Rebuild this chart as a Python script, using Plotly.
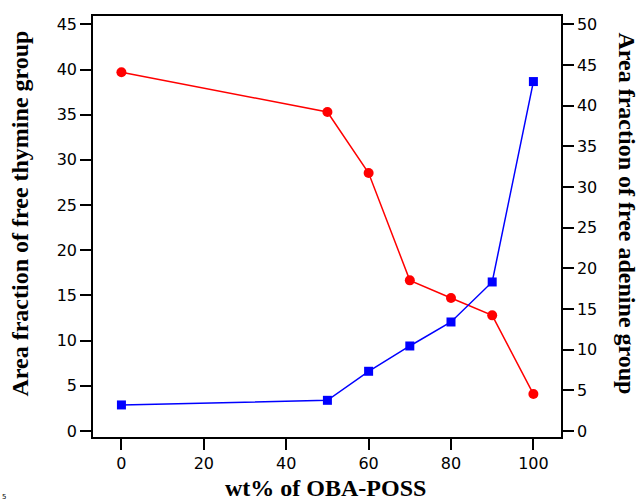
import plotly.graph_objects as go

wt_percent = [0, 50, 60, 70, 80, 90, 100]
thymine_free = [39.7, 35.3, 28.55, 16.67, 14.72, 12.8, 4.09]
adenine_free = [3.2, 3.77, 7.34, 10.45, 13.4, 18.32, 42.96]

x_ticks = [0, 20, 40, 60, 80, 100]
left_ticks = [0, 5, 10, 15, 20, 25, 30, 35, 40, 45]
right_ticks = [0, 5, 10, 15, 20, 25, 30, 35, 40, 45, 50]

x_title = "wt% of OBA-POSS"
left_title = "Area fraction of free thymine group"
right_title = "Area fraction of free adenine group"

fig = go.Figure()
fig.add_trace(go.Scatter(
    x=wt_percent, y=thymine_free, mode="lines+markers",
    line=dict(color="#ff0000", width=1.5),
    marker=dict(symbol="circle", size=10, color="#ff0000"),
    yaxis="y", showlegend=False,
))
fig.add_trace(go.Scatter(
    x=wt_percent, y=adenine_free, mode="lines+markers",
    line=dict(color="#0000ff", width=1.5),
    marker=dict(symbol="square", size=9, color="#0000ff"),
    yaxis="y2", showlegend=False,
))

tickfont = dict(family="DejaVu Sans", size=16, color="black")
titlefont = dict(family="Liberation Serif", size=24, color="black")

fig.update_layout(
    width=639, height=502,
    margin=dict(l=93, r=78, t=16, b=65),
    paper_bgcolor="white", plot_bgcolor="white",
    xaxis=dict(
        range=[-6.9, 106.7], tickvals=x_ticks, ticktext=[str(v) for v in x_ticks],
        ticks="outside", ticklen=11, tickwidth=1.5, tickcolor="black",
        showline=True, linecolor="black", linewidth=1.5, mirror=True,
        showgrid=False, zeroline=False, tickfont=tickfont,
    ),
    yaxis=dict(
        range=[-0.66, 45.92], tickvals=left_ticks, ticktext=[str(v) for v in left_ticks],
        ticks="outside", ticklen=11, tickwidth=1.5, tickcolor="black",
        showline=True, linecolor="black", linewidth=1.5,
        showgrid=False, zeroline=False, tickfont=tickfont,
    ),
    yaxis2=dict(
        range=[-0.74, 51.02], tickvals=right_ticks, ticktext=[str(v) for v in right_ticks],
        overlaying="y", side="right",
        ticks="outside", ticklen=11, tickwidth=1.5, tickcolor="black",
        showline=True, linecolor="black", linewidth=1.5,
        showgrid=False, zeroline=False, tickfont=tickfont,
    ),
    annotations=[
        dict(text="<b>" + x_title + "</b>", xref="paper", yref="paper",
             x=0.497, y=-0.121, xanchor="center", yanchor="middle",
             showarrow=False, font=titlefont),
        dict(text="<b>" + left_title + "</b>", xref="paper", yref="paper",
             x=-0.155, y=0.532, xanchor="center", yanchor="middle",
             textangle=-90, showarrow=False, font=titlefont),
        dict(text="<b>" + right_title + "</b>", xref="paper", yref="paper",
             x=1.14, y=0.532, xanchor="center", yanchor="middle",
             textangle=90, showarrow=False, font=titlefont),
        dict(text="5", xref="paper", yref="paper",
             x=-0.199, y=-0.143, xanchor="left", yanchor="middle",
             showarrow=False, font=dict(family="DejaVu Sans", size=7, color="black")),
    ],
)

fig.write_html("out.html", config={"displayModeBar": False},
               post_script="document.body.style.margin='0';document.body.style.overflow='hidden';")
